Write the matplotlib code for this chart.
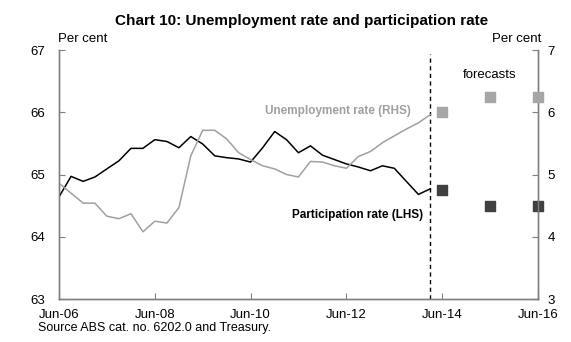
import numpy as np
import pandas as pd
import matplotlib
matplotlib.use('Agg')
import matplotlib.pyplot as plt

plt.rcParams['font.family'] = ['Liberation Sans', 'DejaVu Sans']

# Quarterly history, Jun-06 to Mar-14
quarters = pd.date_range('2006-06-30', periods=32, freq='QE')
participation = [64.64, 64.97, 64.89, 64.96, 65.09, 65.22, 65.42, 65.42,
                 65.56, 65.53, 65.43, 65.61, 65.49, 65.30, 65.27, 65.25,
                 65.20, 65.43, 65.69, 65.56, 65.35, 65.46, 65.31, 65.24,
                 65.17, 65.12, 65.06, 65.14, 65.10, 64.89, 64.68, 64.77]
unemployment = [4.86, 4.70, 4.54, 4.54, 4.33, 4.29, 4.37, 4.08,
                4.25, 4.22, 4.47, 5.30, 5.71, 5.71, 5.57, 5.35,
                5.24, 5.14, 5.09, 5.00, 4.96, 5.21, 5.20, 5.14,
                5.10, 5.29, 5.37, 5.51, 5.62, 5.73, 5.83, 5.96]

# Budget forecasts
fc_dates = pd.to_datetime(['2014-06-30', '2015-06-30', '2016-06-30'])
fc_participation = [64.75, 64.5, 64.5]
fc_unemployment = [6.0, 6.25, 6.25]

tick_dates = pd.to_datetime(['2006-06-30', '2008-06-30', '2010-06-30',
                             '2012-06-30', '2014-06-30', '2016-06-30'])
tick_labels = ['Jun-06', 'Jun-08', 'Jun-10', 'Jun-12', 'Jun-14', 'Jun-16']

grey = '#a0a0a0'
dark = '#404040'
spine_col = '#808080'

fig = plt.figure(figsize=(5.71, 3.42), dpi=100)
ax = fig.add_axes([0.1033, 0.1257, 0.8389, 0.7281])
ax2 = ax.twinx()

ax.plot(quarters, participation, color='black', lw=1.1, zorder=3)
ax2.plot(quarters, unemployment, color=grey, lw=1.1, zorder=2)

ax.scatter(fc_dates, fc_participation, marker='s', s=60, color=dark,
           clip_on=False, zorder=4)
ax2.scatter(fc_dates, fc_unemployment, marker='s', s=60, color='#a6a6a6',
            clip_on=False, zorder=4)

# split between actuals and forecasts
ax.axvline(quarters[-1], ymin=0, ymax=0.985, color='black', lw=1,
           ls=(0, (3, 2.5)))

ax.set_xlim(tick_dates[0], tick_dates[-1])
ax.set_ylim(63, 67)
ax2.set_ylim(3, 7)
ax.set_yticks([63, 64, 65, 66, 67])
ax2.set_yticks([3, 4, 5, 6, 7])
ax.set_xticks(tick_dates)
ax.set_xticklabels(tick_labels)

for a in (ax, ax2):
    a.spines['top'].set_visible(False)
    for s in ('left', 'right', 'bottom'):
        a.spines[s].set_color(spine_col)
        a.spines[s].set_linewidth(1)
    a.tick_params(direction='in', length=4, color=spine_col,
                  labelsize=9.5, pad=6)
ax.tick_params(axis='x', pad=7)
ax.tick_params(axis='y', pad=10)
ax2.tick_params(axis='y', pad=7)

fig.text(0.529, 0.94, 'Chart 10: Unemployment rate and participation rate',
         ha='center', va='center', fontsize=11, fontweight='bold')
fig.text(0.1015, 0.885, 'Per cent', ha='left', va='center', fontsize=9.5)
fig.text(0.9475, 0.885, 'Per cent', ha='right', va='center', fontsize=9.5)
fig.text(0.067, 0.04, 'Source ABS cat. no. 6202.0 and Treasury.',
         ha='left', va='center', fontsize=9)

ax2.text(pd.Timestamp('2013-11-06'), 6.02, 'Unemployment rate (RHS)',
         ha='right', va='center', fontsize=8.5, fontweight='bold', color=grey)
ax.text(pd.Timestamp('2014-02-06'), 64.35, 'Participation rate (LHS)',
        ha='right', va='center', fontsize=8.5, fontweight='bold', color='black')
ax2.text(pd.Timestamp('2015-06-30'), 6.6, 'forecasts',
         ha='center', va='center', fontsize=9.5, color='black')

fig.savefig('out.png', dpi=100)
